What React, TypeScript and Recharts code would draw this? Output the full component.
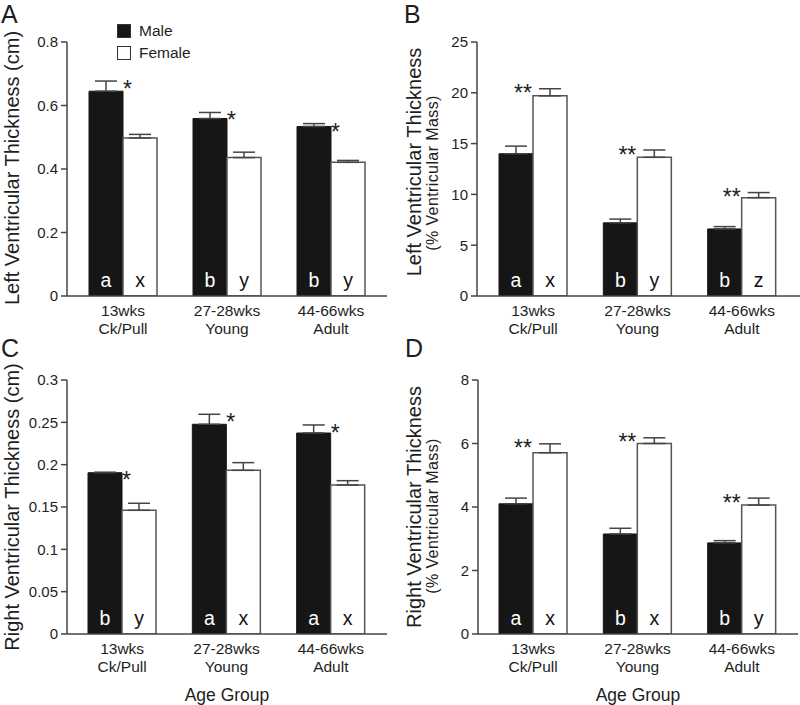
import React from "react";
import { BarChart, Bar, XAxis, YAxis, ErrorBar, LabelList } from "recharts";

// ---- categories / tick labels ----
const tickLine1 = ["13wks", "27-28wks", "44-66wks"];
const tickLine2 = ["Ck/Pull", "Young", "Adult"];

// ---- Panel A: Left ventricular thickness (cm) ----
const maleA = [0.645, 0.559, 0.534];
const maleAErr = [0.032, 0.019, 0.009];
const femaleA = [0.498, 0.436, 0.421];
const femaleAErr = [0.011, 0.017, 0.006];
const maleALetters = ["a", "b", "b"];
const femaleALetters = ["x", "y", "y"];
const ticksA = [0, 0.2, 0.4, 0.6, 0.8];

// ---- Panel B: Left ventricular thickness (% ventricular mass) ----
const maleB = [14.0, 7.2, 6.6];
const maleBErr = [0.75, 0.37, 0.23];
const femaleB = [19.7, 13.65, 9.68];
const femaleBErr = [0.7, 0.72, 0.5];
const maleBLetters = ["a", "b", "b"];
const femaleBLetters = ["x", "y", "z"];
const ticksB = [0, 5, 10, 15, 20, 25];

// ---- Panel C: Right ventricular thickness (cm) ----
const maleC = [0.1905, 0.2477, 0.2374];
const maleCErr = [0.0006, 0.0118, 0.0095];
const femaleC = [0.1461, 0.1933, 0.176];
const femaleCErr = [0.0083, 0.0091, 0.0051];
const maleCLetters = ["b", "a", "a"];
const femaleCLetters = ["y", "x", "x"];
const ticksC = [0, 0.05, 0.1, 0.15, 0.2, 0.25, 0.3];

// ---- Panel D: Right ventricular thickness (% ventricular mass) ----
const maleD = [4.1, 3.15, 2.87];
const maleDErr = [0.18, 0.18, 0.07];
const femaleD = [5.71, 6.0, 4.06];
const femaleDErr = [0.28, 0.18, 0.22];
const maleDLetters = ["a", "b", "b"];
const femaleDLetters = ["x", "x", "y"];
const ticksD = [0, 2, 4, 6, 8];

const FONT = "'Liberation Sans', Arial, Helvetica, sans-serif";
const AXIS = "#444";
const TEXT = "#1e1e1e";
const MALE = "#161616";

function buildData(male: number[], maleErr: number[], female: number[], femaleErr: number[]) {
  return tickLine1.map((t, i) => ({
    cat: `${t}|${tickLine2[i]}`,
    male: male[i],
    female: female[i],
    maleErr: [0, maleErr[i]],
    femaleErr: [0, femaleErr[i]],
  }));
}

const CatTick = (props: any) => {
  const { x, y, payload } = props;
  const [l1, l2] = String(payload.value).split("|");
  return (
    <g>
      <text x={x} y={y + 19.5} textAnchor="middle" fontSize={15.5} fill={TEXT} fontFamily={FONT}>
        {l1}
      </text>
      <text x={x} y={y + 37.5} textAnchor="middle" fontSize={15.5} fill={TEXT} fontFamily={FONT}>
        {l2}
      </text>
    </g>
  );
};

const getBox = (p: any) => {
  const vb = p.viewBox && p.viewBox.width !== undefined ? p.viewBox : p;
  return { x: Number(vb.x), y: Number(vb.y), width: Number(vb.width), height: Number(vb.height) };
};

const letterContent = (letters: string[], color: string) => (p: any) => {
  const { x, y, width, height } = getBox(p);
  const i = p.index;
  return (
    <text x={x + width / 2} y={y + height - 9} textAnchor="middle" fontSize={19.5} fill={color} fontFamily={FONT}>
      {letters[i]}
    </text>
  );
};

const starContent = (vals: number[], errs: number[], mode: "right" | "left") => (p: any) => {
  const { x, y, width, height } = getBox(p);
  const i = p.index;
  const errTop = y - (errs[i] / vals[i]) * height;
  if (mode === "right") {
    return (
      <text x={x + width} y={errTop + 16} textAnchor="start" fontSize={23} fill={TEXT} fontFamily={FONT}>
        *
      </text>
    );
  }
  return (
    <text x={x - 1} y={errTop + 12.5} textAnchor="end" fontSize={23} fill={TEXT} fontFamily={FONT}>
      **
    </text>
  );
};

const YTitle = (props: any) => {
  const { main, sub, mx, my, sx, sy } = props;
  return (
    <g>
      <text
        x={mx}
        y={my}
        transform={`rotate(-90, ${mx}, ${my})`}
        textAnchor="middle"
        fontSize={20}
        fill={TEXT}
        fontFamily={FONT}
      >
        {main}
      </text>
      {sub ? (
        <text
          x={sx}
          y={sy}
          transform={`rotate(-90, ${sx}, ${sy})`}
          textAnchor="middle"
          fontSize={16}
          letterSpacing={0.4}
          fill={TEXT}
          fontFamily={FONT}
        >
          {sub}
        </text>
      ) : null}
    </g>
  );
};

const XTitle = (props: any) => {
  const vb = props.viewBox || {};
  const cx = Number(vb.x) + Number(vb.width) / 2;
  return (
    <text x={cx} y={props.by} textAnchor="middle" fontSize={17.5} fill={TEXT} fontFamily={FONT}>
      Age Group
    </text>
  );
};

type PanelProps = {
  left: number;
  top: number;
  height: number;
  marginTop: number;
  marginRight: number;
  yWidth: number;
  xHeight: number;
  pad: { left: number; right: number };
  data: any[];
  domain: [number, number];
  ticks: number[];
  maleVals: number[];
  maleErrs: number[];
  femaleVals: number[];
  femaleErrs: number[];
  maleLetters: string[];
  femaleLetters: string[];
  starMode: "right" | "left";
  title: any;
  showAge: boolean;
};

function Panel(p: PanelProps) {
  return (
    <div style={{ position: "absolute", left: p.left, top: p.top, width: 400, height: p.height }}>
      <BarChart
        width={400}
        height={p.height}
        data={p.data}
        margin={{ top: p.marginTop, right: p.marginRight, bottom: 0, left: 0 }}
        barGap={0}
        barSize={34}
        style={{ overflow: "visible" }}
      >
        <XAxis
          dataKey="cat"
          height={p.xHeight}
          padding={p.pad}
          axisLine={{ stroke: AXIS, strokeWidth: 1.5 }}
          tickLine={false}
          tickSize={0}
          tickMargin={0}
          tick={<CatTick />}
          interval={0}
          label={p.showAge ? <XTitle by={p.height - 4.5} /> : undefined}
        />
        <YAxis
          width={p.yWidth}
          domain={p.domain}
          ticks={p.ticks}
          allowDataOverflow
          axisLine={{ stroke: AXIS, strokeWidth: 1.5 }}
          tickLine={{ stroke: AXIS, strokeWidth: 1.5 }}
          tickSize={6}
          tickMargin={3}
          tick={{ fontSize: 15, fill: TEXT, fontFamily: FONT }}
          label={p.title}
        />
        <Bar dataKey="male" fill={MALE} stroke={MALE} strokeWidth={1} isAnimationActive={false}>
          <ErrorBar dataKey="maleErr" width={11} stroke={AXIS} strokeWidth={1.5} direction="y" />
          <LabelList dataKey="male" content={letterContent(p.maleLetters, "#ffffff")} />
          {p.starMode === "right" ? (
            <LabelList dataKey="male" content={starContent(p.maleVals, p.maleErrs, "right")} />
          ) : null}
        </Bar>
        <Bar dataKey="female" fill="#ffffff" stroke="#555" strokeWidth={1.5} isAnimationActive={false}>
          <ErrorBar dataKey="femaleErr" width={11} stroke={AXIS} strokeWidth={1.5} direction="y" />
          <LabelList dataKey="female" content={letterContent(p.femaleLetters, "#111111")} />
          {p.starMode === "left" ? (
            <LabelList dataKey="female" content={starContent(p.femaleVals, p.femaleErrs, "left")} />
          ) : null}
        </Bar>
      </BarChart>
    </div>
  );
}

const panelLetter = (t: string, x: number, y: number) => (
  <div
    style={{
      position: "absolute",
      left: x,
      top: y,
      fontSize: 25,
      lineHeight: 1,
      color: TEXT,
      fontFamily: FONT,
    }}
  >
    {t}
  </div>
);

export default function App() {
  const dataA = buildData(maleA, maleAErr, femaleA, femaleAErr);
  const dataB = buildData(maleB, maleBErr, femaleB, femaleBErr);
  const dataC = buildData(maleC, maleCErr, femaleC, femaleCErr);
  const dataD = buildData(maleD, maleDErr, femaleD, femaleDErr);

  return (
    <div
      style={{
        position: "absolute",
        left: 0,
        top: 0,
        width: 800,
        height: 705,
        background: "#fff",
        overflow: "hidden",
        fontFamily: FONT,
      }}
    >
      <Panel
        left={0}
        top={0}
        height={345}
        marginTop={42}
        marginRight={13}
        yWidth={67}
        xHeight={49}
        pad={{ left: 4, right: 4 }}
        data={dataA}
        domain={[0, 0.8]}
        ticks={ticksA}
        maleVals={maleA}
        maleErrs={maleAErr}
        femaleVals={femaleA}
        femaleErrs={femaleAErr}
        maleLetters={maleALetters}
        femaleLetters={femaleALetters}
        starMode="right"
        title={<YTitle main="Left Ventricular Thickness (cm)" mx={19} my={168} />}
        showAge={false}
      />
      <Panel
        left={400}
        top={0}
        height={345}
        marginTop={42}
        marginRight={0}
        yWidth={77}
        xHeight={49}
        pad={{ left: 4, right: 6 }}
        data={dataB}
        domain={[0, 25]}
        ticks={ticksB}
        maleVals={maleB}
        maleErrs={maleBErr}
        femaleVals={femaleB}
        femaleErrs={femaleBErr}
        maleLetters={maleBLetters}
        femaleLetters={femaleBLetters}
        starMode="left"
        title={
          <YTitle main="Left Ventricular Thickness" mx={20.5} my={162} sub="(% Ventricular Mass)" sx={38} sy={173} />
        }
        showAge={false}
      />
      <Panel
        left={0}
        top={330}
        height={375}
        marginTop={50}
        marginRight={13}
        yWidth={67}
        xHeight={71}
        pad={{ left: 3, right: 4 }}
        data={dataC}
        domain={[0, 0.3]}
        ticks={ticksC}
        maleVals={maleC}
        maleErrs={maleCErr}
        femaleVals={femaleC}
        femaleErrs={femaleCErr}
        maleLetters={maleCLetters}
        femaleLetters={femaleCLetters}
        starMode="right"
        title={<YTitle main="Right Ventricular Thickness (cm)" mx={19} my={177} />}
        showAge={true}
      />
      <Panel
        left={400}
        top={330}
        height={375}
        marginTop={50}
        marginRight={2}
        yWidth={78}
        xHeight={71}
        pad={{ left: 3, right: 4 }}
        data={dataD}
        domain={[0, 8]}
        ticks={ticksD}
        maleVals={maleD}
        maleErrs={maleDErr}
        femaleVals={femaleD}
        femaleErrs={femaleDErr}
        maleLetters={maleDLetters}
        femaleLetters={femaleDLetters}
        starMode="left"
        title={
          <YTitle main="Right Ventricular Thickness" mx={20.5} my={177} sub="(% Ventricular Mass)" sx={38} sy={186} />
        }
        showAge={true}
      />

      {panelLetter("A", 1, 2)}
      {panelLetter("B", 404, 2)}
      {panelLetter("C", 1, 336)}
      {panelLetter("D", 405, 336)}

      {/* Legend */}
      <div style={{ position: "absolute", left: 117, top: 21, fontFamily: FONT, fontSize: 15.5, color: TEXT }}>
        <div style={{ display: "flex", alignItems: "center", height: 20 }}>
          <span style={{ display: "inline-block", width: 14, height: 14, background: MALE, border: "1px solid #333", boxSizing: "border-box", marginRight: 8 }} />
          <span>Male</span>
        </div>
        <div style={{ display: "flex", alignItems: "center", height: 20, marginTop: 2 }}>
          <span style={{ display: "inline-block", width: 14, height: 14, background: "#fff", border: "1px solid #333", boxSizing: "border-box", marginRight: 8 }} />
          <span>Female</span>
        </div>
      </div>
    </div>
  );
}
